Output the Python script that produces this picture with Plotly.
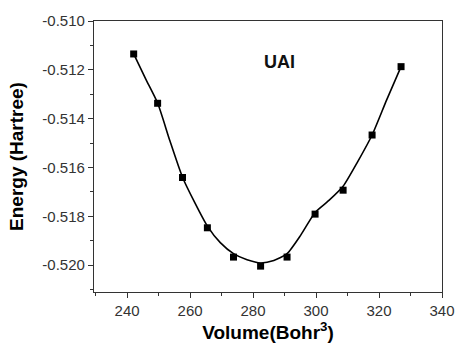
import plotly.graph_objects as go

# Data points (Volume in Bohr^3, Energy in Hartree)
volume = [242.1, 249.7, 257.6, 265.5, 273.8, 282.4, 290.8, 299.7, 308.6, 317.8, 327.0]
energy = [-0.51135, -0.51337, -0.51641, -0.51847, -0.51967, -0.52004, -0.51967,
          -0.51791, -0.51693, -0.51467, -0.51187]

# Smooth fitted curve
fit_volume = [242.1, 245.9, 249.7, 253.6, 257.6, 261.5, 265.5, 269.6, 273.8, 278.1,
              282.4, 286.6, 290.8, 295.2, 299.7, 304.1, 308.6, 313.2, 317.8, 322.4, 327.0]
fit_energy = [-0.51135, -0.51237, -0.51336, -0.51491, -0.51640, -0.51744, -0.51840,
              -0.51908, -0.51953, -0.51978, -0.51991, -0.51981, -0.51953, -0.51876,
              -0.51784, -0.51735, -0.51677, -0.51577, -0.51467, -0.51324, -0.51187]

x_ticks = [240, 260, 280, 300, 320, 340]
y_ticks = [-0.510, -0.512, -0.514, -0.516, -0.518, -0.520]
y_labels = ["-0.510", "-0.512", "-0.514", "-0.516", "-0.518", "-0.520"]

fig = go.Figure()
fig.add_trace(go.Scatter(x=fit_volume, y=fit_energy, mode="lines",
                         line=dict(color="black", width=1.6, shape="spline", smoothing=0.6),
                         hoverinfo="skip", showlegend=False))
fig.add_trace(go.Scatter(x=volume, y=energy, mode="markers",
                         marker=dict(symbol="square", size=7, color="black"),
                         showlegend=False))

fig.add_annotation(x=288.5, y=-0.51168, text="<b>UAI</b>", showarrow=False,
                   font=dict(family="Liberation Sans, Arial", size=18, color="#111111"))

axis_common = dict(showline=True, linecolor="#333333", linewidth=1.3, mirror=True,
                   ticks="outside", ticklen=5, tickwidth=1.2, tickcolor="#333333",
                   showgrid=False, zeroline=False,
                   tickfont=dict(family="Liberation Sans, Arial", size=15, color="#333333"))

fig.update_xaxes(range=[229.5, 340], tickvals=x_ticks,
                 minor=dict(ticks="outside", ticklen=3, dtick=10, tick0=230, tickcolor="#333333", tickwidth=1.2),
                 title=dict(text="<b>Volume(Bohr<sup>3</sup>)</b>", standoff=2,
                            font=dict(family="Liberation Sans, Arial", size=19, color="black")),
                 **axis_common)
fig.update_yaxes(range=[-0.5211, -0.5100], tickvals=y_ticks, ticktext=y_labels,
                 minor=dict(ticks="outside", ticklen=3, dtick=0.001, tick0=-0.511, tickcolor="#333333", tickwidth=1.2),
                 title=dict(text="<b>Energy (Hartree)</b>", standoff=13,
                            font=dict(family="Liberation Sans, Arial", size=19, color="black")),
                 **axis_common)

fig.update_layout(width=467, height=349, margin=dict(l=94, r=13, t=19, b=57),
                  plot_bgcolor="white", paper_bgcolor="white")

fig.write_html("out.html")
